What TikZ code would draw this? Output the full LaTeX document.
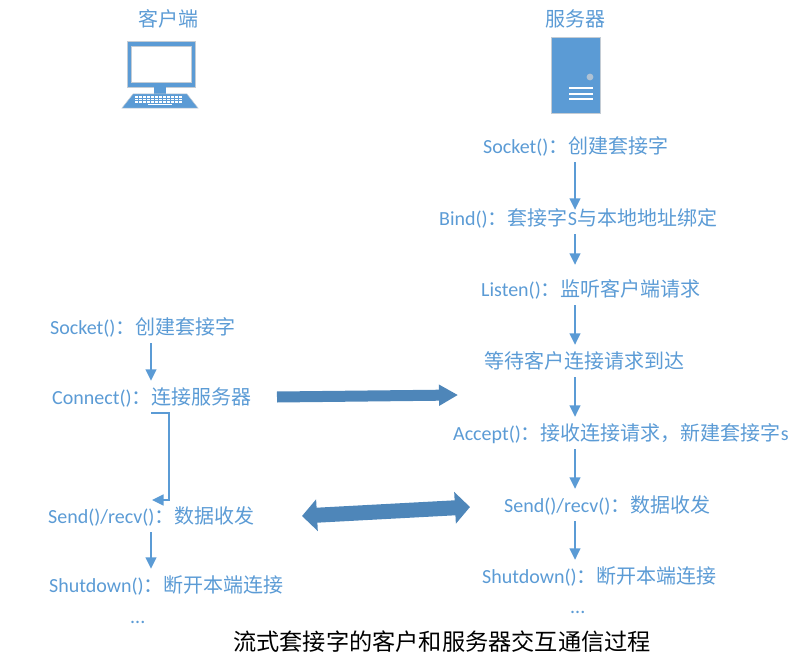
\documentclass[tikz,border=0pt]{standalone}
\usepackage{fontspec}
\setmainfont{Carlito}
\newfontfamily\cjk{Noto Sans CJK SC}
\newcommand{\zh}[1]{{\cjk #1}}
\usetikzlibrary{arrows.meta}
\definecolor{txtblue}{HTML}{5B9BD5}
\definecolor{fatblue}{HTML}{4E86B9}
\definecolor{edgegray}{HTML}{C4CCD4}
\tikzset{
  lbl/.style={anchor=west,inner sep=0pt,text=txtblue,font=\fontsize{20}{20}\selectfont,text height=23pt,text depth=9pt},
  flow/.style={draw=txtblue,line width=1.5pt,-{Triangle[width=11pt,length=11.5pt]}},
  fat/.style={draw=fatblue,line width=11pt,-{Triangle[width=20pt,length=19pt]}},
  fatboth/.style={draw=fatblue,line width=15pt,{Triangle[width=31pt,length=15pt]}-{Triangle[width=31pt,length=15pt]}}
}
\begin{document}
\begin{tikzpicture}[x=1pt,y=-1pt]
   \useasboundingbox (0,0) rectangle (809,661);
   % titles
   \node[lbl,anchor=center] (clienttitle) at (168,20) {\zh{客户端}};
   \node[lbl,anchor=center] (servertitle) at (575,20) {\zh{服务器}};
   % computer
   \fill[txtblue,draw=edgegray] (127,41) rectangle (195,87);
   \fill[white,draw=edgegray] (131,46) rectangle (191,82);
   \fill[txtblue] (154,87) rectangle (166,94);
   \fill[txtblue,draw=edgegray,line width=.5pt] (133,94) -- (187,94) -- (198,108) -- (122,108) -- cycle;
   \foreach \y in {97,99.5,102}
     \draw[white,line width=1.5pt,dash pattern=on 3pt off 1pt] (135,\y) -- (183,\y);
   \draw[white,line width=1.5pt] (148,104.5) -- (172,104.5);
   % server
   \fill[txtblue,draw=edgegray] (551,37) rectangle (600,113);
   \fill[edgegray!80!txtblue] (590,77) circle (3.4);
   \foreach \y in {88,94,99}
     \draw[white,line width=1.8pt] (569,\y) -- (593,\y);
   % server side
   \coordinate (srvx) at (575,0);
   \foreach \n/\x/\y/\t in
     { srvsocket/483/146/{Socket()\zh{：创建套接字}},
       srvbind/439/218/{Bind()\zh{：套接字}S\zh{与本地地址绑定}},
       srvlisten/481/289/{Listen()\zh{：监听客户端请求}},
       srvwait/484/361/{\zh{等待客户连接请求到达}},
       srvaccept/453/433/{Accept()\zh{：接收连接请求，新建套接字}s},
       srvsend/504/505/{Send()/recv()\zh{：数据收发}},
       srvshut/482/576/{Shutdown()\zh{：断开本端连接}},
       srvdots/570/606/{...},
       % client side
       clisocket/50/327/{Socket()\zh{：创建套接字}},
       cliconnect/52/397/{Connect()\zh{：连接服务器}},
       clisend/48/516/{Send()/recv()\zh{：数据收发}},
       clishut/49/585/{Shutdown()\zh{：断开本端连接}},
       clidots/130/616/{...}
     }
     \node[lbl] (\n) at (\x,\y) {\t};
   \foreach \a/\b/\s in {srvsocket/srvbind/-8,srvbind/srvlisten/8,srvlisten/srvwait/0,srvwait/srvaccept/0,srvaccept/srvsend/0,srvsend/srvshut/0}
     \draw[flow,shorten >=\s pt] (\a.south -| srvx) -- (\b.north -| srvx);
   \coordinate (clix) at (151,0);
   \draw[flow] (clisocket.south -| clix) -- (cliconnect.north -| clix);
   \draw[flow] (clisend.south -| clix) -- (clishut.north -| clix);
   \coordinate (elbowa) at (151,413);
   \coordinate (elbowb) at (169,413);
   \coordinate (elbowc) at (169,500);
   \coordinate (elbowd) at (152,500);
   \draw[flow] (elbowa) -- (elbowb) -- (elbowc) -- (elbowd);
   % fat arrows
   \coordinate (fata) at (277,397);
   \coordinate (fatb) at (458,395);
   \draw[fat] (fata) -- (fatb);
   \coordinate (fatc) at (302,516);
   \coordinate (fatd) at (470,507);
   \draw[fatboth] (fatc) -- (fatd);
   \node[anchor=center,inner sep=0pt,font=\fontsize{23.2}{24}\selectfont] (caption) at (442,642) {\zh{流式套接字的客户和服务器交互通信过程}};
\end{tikzpicture}
\end{document}
